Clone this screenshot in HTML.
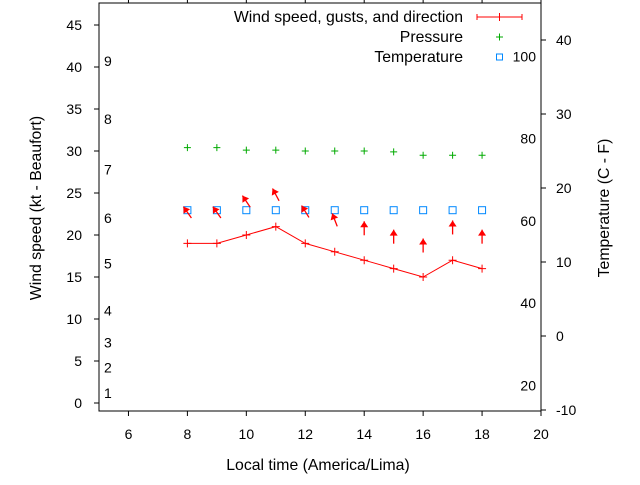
<!DOCTYPE html>
<html><head><meta charset="utf-8"><style>
body{margin:0;background:#fff;}
svg text{font-family:"Liberation Sans",sans-serif;font-size:14px;fill:#000;}
svg text.big{font-size:15.8px;}
</style></head><body>
<svg id="c" width="640" height="480" xmlns="http://www.w3.org/2000/svg"></svg>
<script>
const hours=[8,9,10,11,12,13,14,15,16,17,18];
const windKt=[19,19,20,21,19,18,17,16,15,17,16];
const gustKt=[22.7,22.7,24,24.8,22.8,21.8,20.8,19.8,18.75,20.9,19.8];
const windDirDeg=[-35,-35,-34,-28,-32,-21,0,0,0,0,0];
const pressure=[30.4,30.4,30.1,30.1,30,30,30,29.9,29.5,29.5,29.5];
const tempC=[17,17,17,17,17,17,17,17,17,17,17];
const xTicks=[6,8,10,12,14,16,18,20];
const yTicks=[0,5,10,15,20,25,30,35,40,45];
const y2Ticks=[-10,0,10,20,30,40];
const beaufortLabels=['1','2','3','4','5','6','7','8','9'];
const beaufortKt=[1.2,4.2,7.2,11,16.6,22,27.8,33.8,40.7];
const fLabels=['20','40','60','80','100'];
const fValues=[20,40,60,80,100];

const L=99,R=541,T=3,B=411;
const X=v=>L+(v-5)*(R-L)/15;
const Y=v=>403-8.4*v;
const Y2=c=>410-(c+10)*7.4;
const YF=f=>Y2((f-32)*5/9);
const svg=document.getElementById('c');
const NS='http://www.w3.org/2000/svg';
function el(tag,attrs,txt){const e=document.createElementNS(NS,tag);for(const k in attrs)e.setAttribute(k,attrs[k]);if(txt!==undefined)e.textContent=txt;svg.appendChild(e);return e;}

let e=el('rect',{x:L,y:T,width:R-L,height:B-T,fill:'none',stroke:'#000','stroke-width':1});


xTicks.forEach(t=>{
 el('line',{x1:X(t),x2:X(t),y1:B,y2:B+5,stroke:'#000'});
 el('line',{x1:X(t),x2:X(t),y1:T,y2:T-4,stroke:'#000'});
 const tx=el('text',{x:X(t),y:B+28,'text-anchor':'middle'},t);
 
});
yTicks.forEach(t=>{
 el('line',{x1:L-5,x2:L,y1:Y(t),y2:Y(t),stroke:'#000'});
 const tx=el('text',{x:82,y:Y(t)+5,'text-anchor':'end'},t);
 
});
y2Ticks.forEach(t=>{
 el('line',{x1:R,x2:R+5,y1:Y2(t),y2:Y2(t),stroke:'#000'});
 const tx=el('text',{x:556,y:Y2(t)+5,'text-anchor':'start'},t);
 
});
beaufortLabels.forEach((b,i)=>{
 const tx=el('text',{x:104,y:Y(beaufortKt[i])+5},b);
 
});
fLabels.forEach((f,i)=>{
 const tx=el('text',{x:536,y:YF(fValues[i])+5,'text-anchor':'end'},f);
 
});

e=el('text',{x:318,y:470,'text-anchor':'middle','class':'big'},'Local time (America/Lima)');

e=el('text',{x:0,y:0,transform:'translate(41,208) rotate(-90)','text-anchor':'middle','class':'big'},'Wind speed (kt - Beaufort)');

e=el('text',{x:0,y:0,transform:'translate(609,208) rotate(-90)','text-anchor':'middle','class':'big'},'Temperature (C - F)');


e=el('polyline',{points:hours.map((h,i)=>X(h)+','+Y(windKt[i])).join(' '),fill:'none',stroke:'#f00','stroke-width':1});

hours.forEach((h,i)=>{
 const g=el('path',{d:`M${X(h)-4},${Y(windKt[i])}h8M${X(h)},${Y(windKt[i])-4}v8`,stroke:'#f00','stroke-width':1});
 
});
hours.forEach((h,i)=>{
 const s=el('rect',{x:X(h)-3.5,y:Y2(tempC[i])-3.5,width:7,height:7,fill:'none',stroke:'#08f','stroke-width':1});
 
});
hours.forEach((h,i)=>{
 const p=el('path',{d:`M${X(h)-3.5},${Y(pressure[i])}h7M${X(h)},${Y(pressure[i])-3.5}v7`,stroke:'#0a0','stroke-width':1});
 
});
hours.forEach((h,i)=>{
 const a=windDirDeg[i]*Math.PI/180,len=14;
 const ux=Math.sin(a),uy=-Math.cos(a),px=-uy,py=ux;
 const xc=X(h),yc=Y(gustKt[i]);
 const x0=xc-len/2*ux,y0=yc-len/2*uy;
 const x1=xc+len/2*ux,y1=yc+len/2*uy;
 const g=document.createElementNS(NS,'g');
 
 
 const ln=document.createElementNS(NS,'line');
 ln.setAttribute('x1',x0);ln.setAttribute('y1',y0);ln.setAttribute('x2',x1);ln.setAttribute('y2',y1);
 ln.setAttribute('stroke','#f00');ln.setAttribute('stroke-width','1.3');
 const bx=x1-6*ux,by=y1-6*uy;
 const hd=document.createElementNS(NS,'polygon');
 hd.setAttribute('points',`${x1},${y1} ${bx+4*px},${by+4*py} ${bx-4*px},${by-4*py}`);
 hd.setAttribute('fill','#f00');
 g.appendChild(ln);g.appendChild(hd);svg.appendChild(g);
});
e=el('text',{x:463,y:22,'text-anchor':'end','class':'big'},'Wind speed, gusts, and direction');

el('path',{d:'M477,17h45M477,14v6M522,14v6M499.5,13v8',stroke:'#f00','stroke-width':1,fill:'none'});
e=el('text',{x:463,y:42,'text-anchor':'end','class':'big'},'Pressure');

el('path',{d:'M496,37h7M499.5,33.5v7',stroke:'#0a0','stroke-width':1});
e=el('text',{x:463,y:62,'text-anchor':'end','class':'big'},'Temperature');

el('rect',{x:496.5,y:54,width:6,height:6,fill:'none',stroke:'#08f'});
</script>
</body></html>
